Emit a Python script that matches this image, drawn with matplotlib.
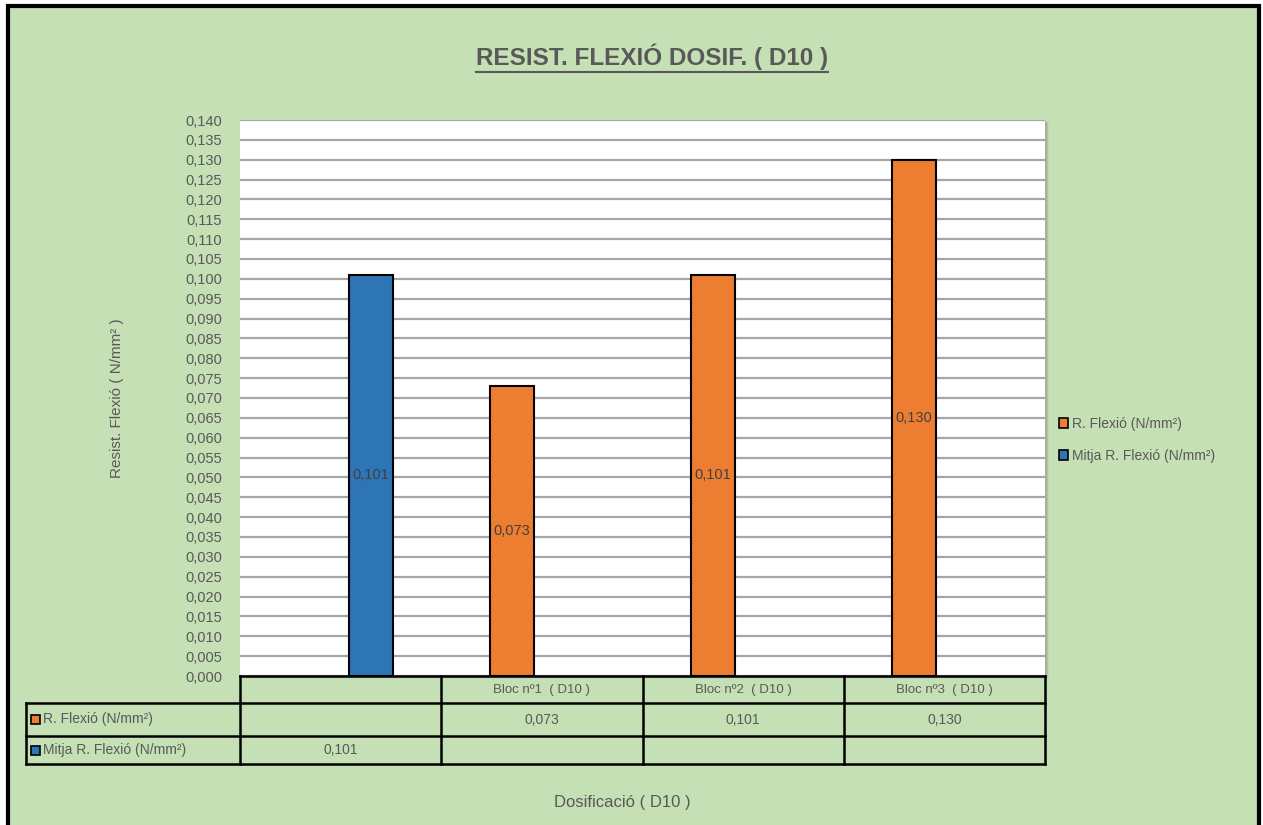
import matplotlib
matplotlib.use("Agg")
import matplotlib.pyplot as plt
import matplotlib.transforms as mtransforms
import numpy as np
from matplotlib.patches import Rectangle
from matplotlib.lines import Line2D

# Data
categories = ["", "Bloc nº1  ( D10 )", "Bloc nº2  ( D10 )", "Bloc nº3  ( D10 )"]
series_names = ["R. Flexió (N/mm²)", "Mitja R. Flexió (N/mm²)"]
r_flexio = [np.nan, 0.073, 0.101, 0.130]
mitja = [0.101, np.nan, np.nan, np.nan]
y_ticks = np.arange(0, 0.1401, 0.005)

ORANGE = "#ED7D31"
BLUE = "#2E75B6"
GREEN = "#C5E0B4"
TXT = "#595959"
plt.rcParams["font.family"] = ["Liberation Sans", "DejaVu Sans"]

W, H = 1263, 825
fig = plt.figure(figsize=(W / 100, H / 100), dpi=100)
fig.patch.set_facecolor("white")

def fx(px):
    return px / W

def fy(py):
    return 1 - py / H

# Chart area with black frame
fig.patches.append(Rectangle((fx(8), fy(840)), fx(1251), 834 / H,
                             transform=fig.transFigure, facecolor=GREEN,
                             edgecolor="black", linewidth=3, zorder=-3))

# Plot area
L, R, T, B = 240, 1045, 120, 676
ax = fig.add_axes([fx(L), fy(B), fx(R - L), (B - T) / H])
ax.set_facecolor("white")
ax.set_zorder(1)
for s in ax.spines.values():
    s.set_visible(False)

# soft shadow of plot area
for i, a in enumerate([0.35, 0.22, 0.12]):
    o = i + 1
    fig.patches.append(Rectangle((fx(L + o + 1), fy(B + o)), fx(R - L), (B - T) / H,
                                 transform=fig.transFigure, facecolor="#8c8c8c",
                                 edgecolor="none", alpha=a, zorder=-2))

x = np.arange(len(categories))
off = 0.15
bw = 0.22
ax.bar(x - off, r_flexio, width=bw, color=ORANGE, edgecolor="black", linewidth=1.5, zorder=3)
ax.bar(x + off, mitja, width=bw, color=BLUE, edgecolor="black", linewidth=1.5, zorder=3)

def fmt(v):
    return f"{v:.3f}".replace(".", ",")

for xi, v in zip(x, r_flexio):
    if not np.isnan(v):
        ax.text(xi - off, v / 2, fmt(v), ha="center", va="center", fontsize=10.5,
                color="#404040", zorder=4)
for xi, v in zip(x, mitja):
    if not np.isnan(v):
        ax.text(xi + off, v / 2, fmt(v), ha="center", va="center", fontsize=10.5,
                color="#404040", zorder=4)

ax.set_xlim(-0.5, 3.5)
ax.set_ylim(0, 0.140)
ax.set_yticks(y_ticks)
ax.set_yticklabels([fmt(t) for t in y_ticks], fontsize=10.5, color=TXT)
ax.tick_params(axis="y", length=0, pad=13)
ax.set_xticks([])
ax.yaxis.grid(True, color="#A6A6A6", linewidth=1.6, zorder=1)
ax.set_axisbelow(True)
ax.set_ylabel("Resist. Flexió ( N/mm² )", fontsize=11, color=TXT, labelpad=44)

# Data table below the plot area (x in data units, y in figure pixels)
rows_y = [676, 703, 736, 764]
lab_left = 26
blend = mtransforms.blended_transform_factory(ax.transData, fig.transFigure)

def hline(x0, x1, py):
    fig.lines.append(Line2D([fx(x0), fx(x1)], [fy(py), fy(py)], transform=fig.transFigure,
                            color="black", linewidth=1.8, zorder=5))

def vline(px, y0, y1):
    fig.lines.append(Line2D([fx(px), fx(px)], [fy(y0), fy(y1)], transform=fig.transFigure,
                            color="black", linewidth=1.8, zorder=5))

hline(L, R, rows_y[0])
for py in rows_y[1:]:
    hline(lab_left, R, py)
vline(lab_left, rows_y[1], rows_y[3])
edges = np.arange(len(categories) + 1) - 0.5
for e in edges:
    ex = ax.transData.transform((e, 0))[0]
    vline(ex, rows_y[0], rows_y[3])

# header row
for xi, c in zip(x, categories):
    fig.text(0, 0, c, transform=blend, ha="center", va="center", fontsize=9.5,
             color=TXT).set_position((xi, fy((rows_y[0] + rows_y[1]) / 2)))

# body rows
for r, (name, vals, col) in enumerate([(series_names[0], r_flexio, ORANGE),
                                        (series_names[1], mitja, BLUE)]):
    cy = (rows_y[r + 1] + rows_y[r + 2]) / 2
    key = 9
    fig.patches.append(Rectangle((fx(31), fy(cy + key / 2)), fx(key), key / H,
                                 transform=fig.transFigure, facecolor=col,
                                 edgecolor="black", linewidth=1.2, zorder=5))
    fig.text(fx(43), fy(cy), name, ha="left", va="center", fontsize=10, color=TXT)
    for xi, v in zip(x, vals):
        if not np.isnan(v):
            t = fig.text(0, 0, fmt(v), transform=blend, ha="center", va="center",
                         fontsize=10, color=TXT)
            t.set_position((xi, fy(cy)))

# Legend
handles = [Rectangle((0, 0), 1, 1, facecolor=ORANGE, edgecolor="black", linewidth=1.2),
           Rectangle((0, 0), 1, 1, facecolor=BLUE, edgecolor="black", linewidth=1.2)]
fig.legend(handles, series_names, loc="center left",
           bbox_to_anchor=(fx(1046), fy(440)), frameon=False, fontsize=10,
           labelcolor=TXT, handlelength=0.7, handleheight=0.7, handletextpad=0.3,
           labelspacing=1.3)

# Axis title below table
fig.text(fx(622), fy(802), "Dosificació ( D10 )", ha="center", va="center",
         fontsize=12, color=TXT)

# Title, underlined
title = fig.text(fx(652), fy(57), "RESIST. FLEXIÓ DOSIF. ( D10 )", ha="center",
                 va="center", fontsize=17.5, fontweight="bold", color=TXT)
fig.canvas.draw()
bb = title.get_window_extent()
uy = bb.y0 - 2
fig.lines.append(Line2D([bb.x0 / W, bb.x1 / W], [uy / H, uy / H],
                        transform=fig.transFigure, color=TXT, linewidth=1.5))

fig.savefig("out.png", dpi=100, facecolor=fig.get_facecolor())
